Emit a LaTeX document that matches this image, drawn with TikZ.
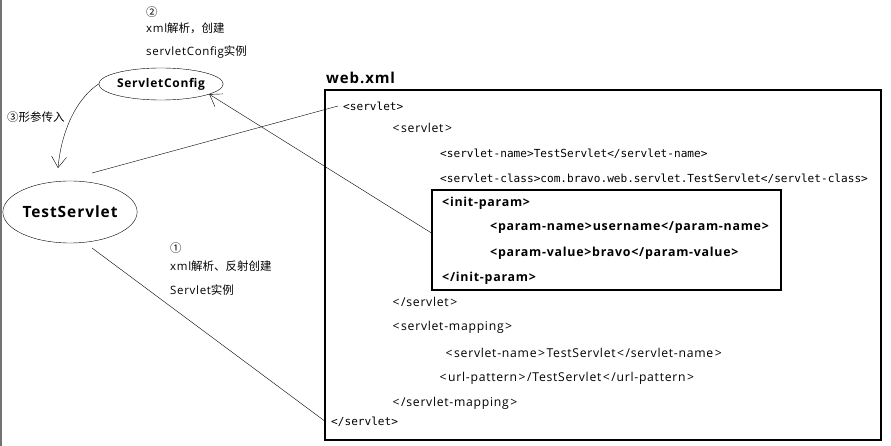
\documentclass[tikz,border=0pt]{standalone}
\usepackage{fontspec}
\setmainfont{Open Sans}[LetterSpace=6]
\newfontfamily\cjk{Noto Sans CJK SC}
\newfontfamily\codefont{DejaVu Sans Mono}
\usetikzlibrary{arrows.meta,positioning,calc,shapes.geometric}
\newcommand\ltag{\kern1.5pt<\kern1.5pt}
\newcommand\rtag{\kern1.5pt>\kern1.5pt}

\begin{document}
\begin{tikzpicture}[x=1pt,y=-1pt,
  note/.style={anchor=west,inner sep=0pt,font=\fontsize{11.5}{13}\selectfont},
  codeline/.style={anchor=west,inner sep=0pt,font=\codefont\fontsize{11.1}{13}\selectfont},
  tagline/.style={anchor=west,inner sep=0pt,font=\fontsize{12.2}{14}\selectfont},
  boldline/.style={anchor=west,inner sep=0pt,font=\bfseries\fontsize{12.4}{14}\selectfont},
  obj/.style={ellipse,draw,inner sep=0pt,font=\bfseries},
  barb/.style={-{Straight Barb[length=11pt,width=15pt]}}]
\useasboundingbox (0,0) rectangle (891,446);
\draw[black!55,line width=2.5pt] (1,0)--(1,446);
% objects
\node[obj,minimum width=104,minimum height=32,font=\bfseries\fontsize{12}{15}\selectfont] (sc) at (161,84) {ServletConfig};
\node[obj,minimum width=115,minimum height=62,font=\bfseries\fontsize{15.5}{19}\selectfont] (ts) at (70,212) {TestServlet};
% notes
\node[note] (n2a) at (146,12) {\cjk ②};
\node[note] (n2b) at (146,28) {xml\cjk 解析，创建};
\node[note] (n2c) at (146,52) {servletConfig\cjk 实例};
\node[note] (n3) at (7,117) {\cjk ③形参传入};
\node[note] (n1a) at (170,248) {\cjk ①};
\node[note] (n1b) at (170,266) {xml\cjk 解析、反射创建};
\node[note] (n1c) at (170,290) {Servlet\cjk 实例};
% web.xml
\node[anchor=west,inner sep=0pt,font=\bfseries\fontsize{15}{18}\selectfont] (wxt) at (326,78) {web.xml};
\node[draw,line width=1.1pt,minimum width=556,minimum height=350,inner sep=0pt] (wx) at (603,265) {};
\node[draw,line width=1.1pt,minimum width=349,minimum height=100,inner sep=0pt] (ip) at (606.5,240) {};
\node[codeline] (xsrv) at (343,106) {<servlet>};
\node[tagline] (xsrvin) at (391,128) {\ltag servlet\rtag};
\node[codeline] (xname) at (440,154) {<servlet-name>TestServlet</servlet-name>};
\node[codeline] (xclass) at (440,179) {<servlet-class>com.bravo.web.servlet.TestServlet</servlet-class>};
\node[boldline] (xinit) at (442,203) {<init-param>};
\node[boldline] (xpname) at (490,228) {<param-name>username</param-name>};
\node[boldline] (xpval) at (490,253) {<param-value>bravo</param-value>};
\node[boldline] (xinitend) at (442,278) {</init-param>};
\node[tagline] (xsrvend) at (391,302) {\ltag/servlet\rtag};
\node[tagline] (xmap) at (391,327) {\ltag servlet-mapping\rtag};
\node[tagline] (xmname) at (444,353) {\ltag servlet-name\rtag TestServlet\ltag/servlet-name\rtag};
\node[tagline] (xurl) at (438,378) {\ltag url-pattern\rtag/TestServlet\ltag/url-pattern\rtag};
\node[tagline] (xmapend) at (391,403) {\ltag/servlet-mapping\rtag};
\node[codeline] (xclose) at (331,422) {</servlet>};
% connectors
\coordinate (tsin) at (58,168);
\coordinate (tsup) at (92,173);
\coordinate (tsdown) at (92,248);
\draw[barb] (sc.west) .. controls (80,96) and (62,125) .. (tsin);
\draw (tsup)--([xshift=-5pt]xsrv.west);
\draw[barb] ([yshift=7pt]ip.west)--(sc.-12);
\draw (tsdown)--([xshift=-5pt]xclose.west);
\end{tikzpicture}
\end{document}
